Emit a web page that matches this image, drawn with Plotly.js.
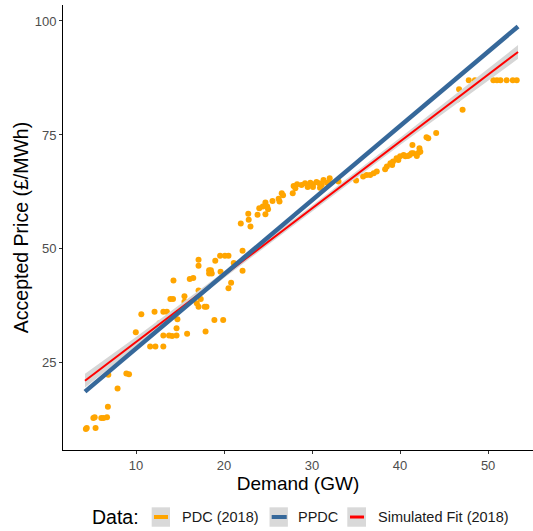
<!DOCTYPE html>
<html>
<head>
<meta charset="utf-8">
<script src="https://cdn.plot.ly/plotly-3.0.1.min.js"></script>
<style>html,body{margin:0;padding:0;background:#fff;}#chart{width:533px;height:531px;}</style>
</head>
<body>
<div id="chart"></div>
<script>
// PDC (2018) observed points: demand (GW) and accepted price (£/MWh)
var pdcDemand = [4.3,4.4,5.4,5.15,5.3,6.05,6.3,6.7,6.8,7.9,8.9,9.2,6.85,9.97,11.6,12.2,13.1,13.1,13.75,14.1,14.6,15.8,10.6,12.1,13.1,13.5,12.65,13.9,14.2,14.25,14.6,14.7,15.5,15.5,16.1,16.5,17.1,16.9,17.35,17.1,17.1,17.1,17.8,18.0,17.9,18.3,18.5,18.3,18.6,18.45,19.0,19.6,19.55,20.1,20.5,18.9,19.9,20.5,20.8,21.1,22.1,22.1,21.9,22.75,22.8,23.0,23.8,24.7,24.0,24.4,24.7,24.9,25.0,25.5,26.2,26.3,26.55,26.7,27.8,27.9,28.3,28.1,28.8,29.2,29.5,29.8,30.1,30.1,30.5,30.8,31.1,31.3,31.7,32.0,31.9,30.9,33.0,35.0,35.8,36.2,36.6,37.0,37.35,38.3,38.5,38.9,39.1,39.2,39.6,39.8,40.0,40.4,40.6,40.9,41.1,41.3,41.5,41.9,42.1,42.3,42.2,41.4,43.2,44.1,43.0,47.1,46.5,46.7,47.8,48.5,50.6,51.0,51.4,52.1,52.8,53.25];
var pdcPrice = [10.5,10.7,10.7,12.9,13.1,12.9,12.9,13.1,15.4,19.4,22.7,22.5,22.4,31.7,28.6,28.6,28.6,31.0,31.0,30.9,31.0,31.4,35.7,36.2,36.2,36.2,33.7,39.0,39.0,43.1,32.6,34.6,39.6,38.4,43.4,43.6,40.9,38.1,39.0,47.6,46.3,37.3,37.3,37.3,31.9,45.3,45.3,44.6,44.6,45.0,47.4,45.0,48.5,48.5,48.5,34.4,34.4,41.4,42.6,46.9,49.6,45.2,55.6,57.7,56.4,54.9,57.5,57.6,58.9,59.3,60.2,59.3,58.7,60.5,61.0,60.4,62.2,61.8,62.2,63.8,64.2,63.3,64.0,64.4,63.6,64.5,64.2,63.6,64.7,64.4,64.0,65.1,64.5,65.5,64.4,63.4,64.8,65.0,65.9,66.2,66.2,66.6,67.0,67.5,68.1,68.8,68.4,69.2,69.9,69.5,70.3,70.6,70.3,70.4,70.6,71.0,71.0,70.4,71.1,71.3,72.1,72.8,74.3,75.4,74.5,80.5,82.8,85.0,87.0,87.0,87.0,87.0,87.0,87.0,87.0,87.0];

// PPDC line
var ppdcDemand = [4.2, 53.4];
var ppdcPrice = [18.7, 98.8];

// Simulated fit (2018) with confidence band
var fitDemand = [4.2, 10, 20, 30, 40, 53.4];
var fitPrice  = [21.1, 29.6, 44.3, 58.9, 73.6, 93.2];
var fitUpper  = [22.6, 30.7, 45.0, 59.5, 74.4, 94.7];
var fitLower  = [19.6, 28.5, 43.6, 58.3, 72.8, 91.7];

// Axis ticks and legend
var xTicks = [10, 20, 30, 40, 50];
var yTicks = [25, 50, 75, 100];
var legendTitle = 'Data:';
var seriesNames = ['PDC (2018)', 'PPDC', 'Simulated Fit (2018)'];
var seriesColors = ['#FFA500', '#36689A', '#FF0000'];

var font = "Liberation Sans, Arial, sans-serif";

var traces = [
  {x: pdcDemand, y: pdcPrice, type: 'scatter', mode: 'markers', name: seriesNames[0],
   marker: {color: seriesColors[0], size: 6}},
  {x: fitDemand, y: fitLower, type: 'scatter', mode: 'lines', line: {width: 0, color: 'rgba(0,0,0,0)'},
   hoverinfo: 'skip'},
  {x: fitDemand, y: fitUpper, type: 'scatter', mode: 'lines', fill: 'tonexty', fillcolor: '#D6D6D6',
   line: {width: 0, color: 'rgba(0,0,0,0)'}, hoverinfo: 'skip'},
  {x: fitDemand, y: fitPrice, type: 'scatter', mode: 'lines', name: seriesNames[2],
   line: {color: seriesColors[2], width: 2}},
  {x: ppdcDemand, y: ppdcPrice, type: 'scatter', mode: 'lines', name: seriesNames[1],
   line: {color: seriesColors[1], width: 4.5}}
];

// Legend drawn in paper coordinates (ggplot-style keys with grey background)
var legY = -0.1506;
var keyBoxes = [[0.1887, 0.2277], [0.4394, 0.4785], [0.6049, 0.6447]];
var keySegs = [[0.1936, 0.2234], [0.4440, 0.4760], [0.6106, 0.6404]];
var keyWidths = [4, 4, 3];
var textX = [0.2480, 0.4955, 0.6650];

var shapes = [];
var annotations = [{
  xref: 'paper', yref: 'paper', x: 0.058, y: legY, xanchor: 'left', yanchor: 'middle',
  text: legendTitle, showarrow: false, font: {size: 19.5, color: '#000', family: font}
}];
for (var i = 0; i < seriesNames.length; i++) {
  shapes.push({type: 'rect', xref: 'paper', yref: 'paper', x0: keyBoxes[i][0], x1: keyBoxes[i][1],
    y0: -0.1724, y1: -0.1288, fillcolor: '#D9D9D9', line: {width: 0}});
  shapes.push({type: 'line', xref: 'paper', yref: 'paper', x0: keySegs[i][0], x1: keySegs[i][1],
    y0: legY, y1: legY, line: {color: seriesColors[i], width: keyWidths[i]}});
  annotations.push({xref: 'paper', yref: 'paper', x: textX[i], y: legY, xanchor: 'left', yanchor: 'middle',
    text: seriesNames[i], showarrow: false, font: {size: 14.5, color: '#1A1A1A', family: font}});
}

var layout = {
  width: 533, height: 531,
  margin: {l: 63, r: 0, t: 5, b: 81},
  paper_bgcolor: '#ffffff', plot_bgcolor: '#ffffff',
  font: {family: font},
  showlegend: false,
  shapes: shapes,
  annotations: annotations,
  xaxis: {
    range: [1.7, 55.1], tickvals: xTicks, ticktext: xTicks.map(String),
    showgrid: false, zeroline: false, showline: true, linecolor: '#000', linewidth: 1,
    ticks: 'outside', ticklen: 3, tickcolor: '#333', tickwidth: 1,
    tickfont: {size: 13, color: '#4D4D4D', family: font},
    title: {text: 'Demand (GW)', font: {size: 19, color: '#000', family: font}, standoff: 0}
  },
  yaxis: {
    range: [5.9, 103.5], tickvals: yTicks, ticktext: yTicks.map(String),
    showgrid: false, zeroline: false, showline: true, linecolor: '#000', linewidth: 1,
    ticks: 'outside', ticklen: 3, tickcolor: '#333', tickwidth: 1,
    tickfont: {size: 13, color: '#4D4D4D', family: font},
    title: {text: 'Accepted Price (£/MWh)', font: {size: 19.5, color: '#000', family: font}, standoff: 0}
  }
};

Plotly.newPlot('chart', traces, layout, {displayModeBar: false, staticPlot: true});
</script>
</body>
</html>
